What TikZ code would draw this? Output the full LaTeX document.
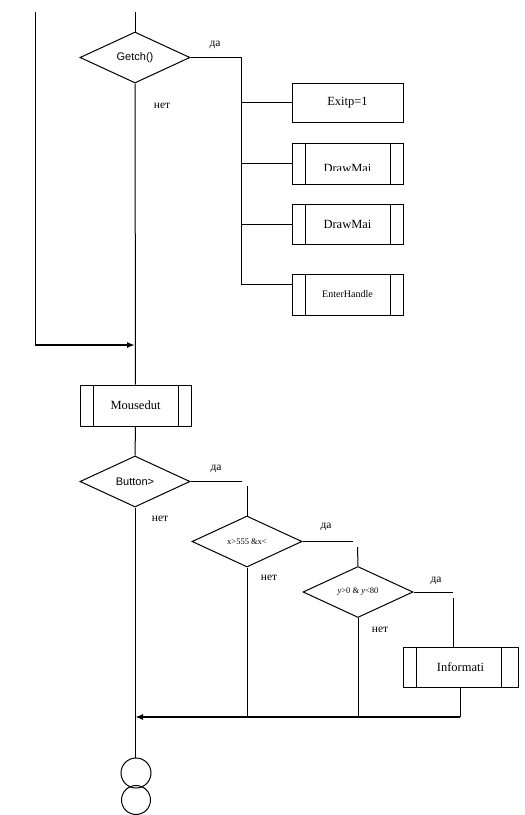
\documentclass[tikz,border=0pt]{standalone}
\usepackage{fontspec}
\setmainfont{Liberation Serif}
\newfontfamily\arialf{Liberation Sans}
\usetikzlibrary{shapes.geometric,arrows.meta}
\begin{document}
\begin{tikzpicture}[x=1pt,y=-1pt,
  ln/.style={line width=1pt},
  thk/.style={line width=1.8pt,-{Latex[length=8pt,width=6pt]}},
  dec/.style={diamond,draw,line width=1pt,inner sep=0pt,aspect=2.16,minimum width=110pt,minimum height=51pt},
  box/.style={draw,line width=1pt,inner sep=0pt,minimum width=111pt,minimum height=40pt,font=\fontsize{12.5}{13}\selectfont},
  proc/.style={box,path picture={
     \draw[line width=1pt] ([xshift=13pt]path picture bounding box.north west) -- ([xshift=13pt]path picture bounding box.south west);
     \draw[line width=1pt] ([xshift=-#1]path picture bounding box.north east) -- ([xshift=-#1]path picture bounding box.south east);}},
  proc/.default=13pt,
  lbl/.style={inner sep=0pt,font=\fontsize{11.5}{12}\selectfont},
  conn/.style={circle,draw,line width=1pt,minimum size=30pt,inner sep=0pt}]
\useasboundingbox (0,0) rectangle (525,815);

% top part
\node[dec,font=\arialf\fontsize{11}{12}\selectfont] (getch) at (135,57.5) {Getch()};
\node[box,minimum height=39pt] (exit) at (347.5,102.5) {Exitp=1};
\node[proc,minimum height=41pt] (dm1) at (347.5,163.5) {};
\begin{scope}
  \clip (292,143) rectangle (403,170);
  \node[inner sep=0pt,font=\fontsize{12.5}{13}\selectfont] (dm1t) at (347.5,168) {DrawMai};
\end{scope}
\node[proc] (dm2) at (347.5,224) {DrawMai};
\node[proc,minimum height=41pt,font=\fontsize{10}{11}\selectfont] (enter) at (347.5,294.5) {EnterHandle};
\node[lbl] (da1) at (215,45) {да};
\node[lbl] (net1) at (162,106) {нет};

\coordinate (ltop) at (35,12);
\coordinate (lbot) at (35,345);
\coordinate (mtop) at (135,12);
\coordinate (join1) at (135,345);
\coordinate (b1) at (241,57.5);
\coordinate (b4) at (241,284);

\draw[ln] (mtop) -- (getch.north);
\draw[ln] (ltop) -- (lbot);
\draw[thk] (lbot) -- (join1);
\draw[ln] (getch.east) -- (b1) -- (b4) -- (b4 -| enter.west);
\draw[ln] (b1 |- exit.west) -- (exit.west);
\draw[ln] (b1 |- dm1.west) -- (dm1.west);
\draw[ln] (b1 |- dm2.west) -- (dm2.west);

% middle
\node[proc,minimum height=41pt] (mouse) at (135.5,405.5) {Mousedut};
\draw[ln] (getch.south) -- (mouse.north);

\node[dec,font=\arialf\fontsize{11}{12}\selectfont] (button) at (135,481.5) {Button>};
\draw[ln] (mouse.south) -- (button.north);
\node[lbl] (da2) at (216,469) {да};
\node[lbl] (net2) at (160,519) {нет};

\node[dec,font=\fontsize{8.5}{9}\selectfont] (d2) at (247,541.5) {x>555 \&x<};
\node[lbl] (da3) at (326,527) {да};
\node[lbl] (net3) at (269,578) {нет};

\node[dec,font=\fontsize{8.5}{9}\selectfont] (d3) at (358,592) {\textit{y}>0 \& \textit{y}<80};
\node[lbl] (da4) at (436,581) {да};
\node[lbl] (net4) at (380,630) {нет};

\node[proc=17pt,minimum width=115pt] (inf) at (460.5,667) {Informati};

\coordinate (e2) at (242,481.5);
\coordinate (t2) at (247,486);
\coordinate (e3) at (353,541.5);
\coordinate (t3) at (357.5,547);
\coordinate (e4) at (453,592);
\coordinate (t4) at (453,598);
\coordinate (bj) at (460,717);
\coordinate (join2) at (135,717);

\draw[ln] (button.east) -- (e2);
\draw[ln] (t2) -- (d2.north);
\draw[ln] (d2.east) -- (e3);
\draw[ln] (t3) -- (d3.north);
\draw[ln] (d3.east) -- (e4);
\draw[ln] (t4) -- (t4 |- inf.north);
\draw[ln] (inf.south -| bj) -- (bj);
\draw[ln] (d2.south) -- (d2.south |- bj);
\draw[ln] (d3.south) -- (d3.south |- bj);
\draw[thk] (bj) -- (join2);

% end connectors
\node[conn] (c1) at (136,773) {};
\node[conn,minimum size=29pt] (c2) at (136,800) {};
\draw[ln] (button.south) -- (button.south |- c1.north);
\end{tikzpicture}
\end{document}
